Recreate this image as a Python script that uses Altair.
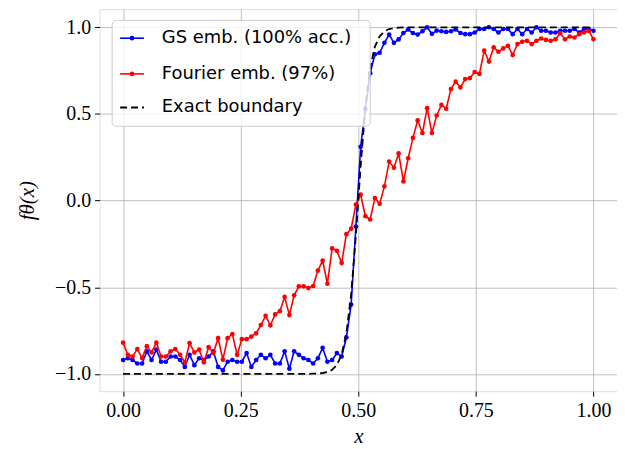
import altair as alt
import numpy as np
import pandas as pd

# ---------------- data ----------------
x_vals = np.linspace(0, 1, 100)

gs_vals = [
    -0.92, -0.91, -0.92, -0.94, -0.94, -0.87, -0.92, -0.86, -0.93, -0.93,
    -0.90, -0.90, -0.92, -0.96, -0.89, -0.95, -0.91, -0.92, -0.90, -0.87,
    -0.96, -0.98, -0.93, -0.92, -0.93, -0.93, -0.88, -0.96, -0.92, -0.89,
    -0.91, -0.89, -0.94, -0.94, -0.87, -0.97, -0.87, -0.89, -0.91, -0.92,
    -0.94, -0.91, -0.85, -0.93, -0.92, -0.88, -0.90, -0.79, -0.60, -0.15,
    0.31, 0.53, 0.735, 0.844, 0.853, 0.91, 0.958, 0.91, 0.93, 0.967,
    0.987, 0.967, 0.958, 0.977, 1.0, 0.962, 0.981, 0.977, 0.973, 0.977,
    0.987, 0.967, 0.96, 0.96, 0.97, 0.99, 0.99, 1.0, 0.99, 0.97,
    0.99, 0.99, 0.96, 0.99, 0.96, 0.99, 0.97, 1.0, 0.98, 0.98,
    0.97, 0.97, 0.98, 0.98, 0.98, 0.99, 0.97, 0.99, 0.99, 0.98,
]

fourier_vals = [
    -0.82, -0.89, -0.90, -0.857, -0.909, -0.84, -0.876, -0.82, -0.90, -0.90,
    -0.87, -0.857, -0.89, -0.933, -0.823, -0.876, -0.86, -0.933, -0.846, -0.88,
    -0.794, -0.918, -0.794, -0.77, -0.89, -0.80, -0.80, -0.785, -0.766, -0.718,
    -0.665, -0.72, -0.657, -0.638, -0.556, -0.661, -0.547, -0.495, -0.495, -0.505,
    -0.493, -0.404, -0.347, -0.48, -0.276, -0.29, -0.36, -0.194, -0.162, -0.023,
    0.034, -0.09, -0.109, 0.015, -0.019, 0.082, 0.225, 0.19, 0.272, 0.11,
    0.244, 0.362, 0.463, 0.39, 0.533, 0.39, 0.491, 0.552, 0.53, 0.644,
    0.686, 0.653, 0.701, 0.707, 0.742, 0.731, 0.865, 0.802, 0.884, 0.859,
    0.878, 0.893, 0.84, 0.903, 0.916, 0.922, 0.903, 0.922, 0.935, 0.927,
    0.922, 0.931, 0.966, 0.931, 0.947, 0.941, 0.96, 0.97, 0.979, 0.931,
]

exact_vals = [
    -1.0, -1.0, -1.0, -1.0, -1.0, -1.0, -1.0, -1.0, -1.0, -1.0,
    -1.0, -1.0, -1.0, -1.0, -1.0, -1.0, -1.0, -1.0, -1.0, -1.0,
    -1.0, -1.0, -1.0, -1.0, -1.0, -1.0, -1.0, -1.0, -1.0, -1.0,
    -1.0, -1.0, -1.0, -1.0, -1.0, -1.0, -1.0, -1.0, -1.0, -1.0,
    -0.999, -0.998, -0.995, -0.990, -0.977, -0.948, -0.889, -0.766, -0.541, -0.199,
    0.199, 0.541, 0.766, 0.889, 0.948, 0.977, 0.990, 0.995, 0.998, 0.999,
    1.0, 1.0, 1.0, 1.0, 1.0, 1.0, 1.0, 1.0, 1.0, 1.0,
    1.0, 1.0, 1.0, 1.0, 1.0, 1.0, 1.0, 1.0, 1.0, 1.0,
    1.0, 1.0, 1.0, 1.0, 1.0, 1.0, 1.0, 1.0, 1.0, 1.0,
    1.0, 1.0, 1.0, 1.0, 1.0, 1.0, 1.0, 1.0, 1.0, 1.0,
]

series_labels = ["GS emb. (100% acc.)", "Fourier emb. (97%)", "Exact boundary"]
series_colors = ["#0000ff", "#ff0000", "#000000"]

x_ticks = [0.0, 0.25, 0.5, 0.75, 1.0]
y_ticks = [-1.0, -0.5, 0.0, 0.5, 1.0]

# ---------------- tables ----------------
df_gs = pd.DataFrame({"x": x_vals, "y": gs_vals})
df_fo = pd.DataFrame({"x": x_vals, "y": fourier_vals})
df_ex = pd.DataFrame({"x": x_vals, "y": exact_vals})

SERIF = "Liberation Serif"
SANS = "DejaVu Sans"

xs = alt.Scale(domain=[-0.05, 1.05], nice=False, zero=False)
ys = alt.Scale(domain=[-1.1, 1.105], nice=False, zero=False)

xaxis = alt.Axis(values=x_ticks, format=".2f", title="x", titleFontStyle="italic",
                 titleFont=SERIF, titleFontSize=21, titleFontWeight="normal",
                 titleColor="black", titlePadding=6,
                 labelFont=SERIF, labelFontSize=20, labelColor="black", labelPadding=4,
                 tickSize=5, tickColor="black", tickWidth=1, domain=False,
                 grid=True, gridColor="#b0b0b0", gridWidth=0.8, labelFlush=False)
yaxis = alt.Axis(values=y_ticks, format=".1f", title="fθ(x)", titleFontStyle="italic",
                 titleFont=SERIF, titleFontSize=21, titleFontWeight="normal",
                 titleColor="black", titlePadding=17,
                 labelFont=SERIF, labelFontSize=20, labelColor="black", labelPadding=4,
                 tickSize=5, tickColor="black", tickWidth=1, domain=False,
                 grid=True, gridColor="#b0b0b0", gridWidth=0.8, labelFlush=False)

X = alt.X("x:Q", scale=xs, axis=xaxis)
Y = alt.Y("y:Q", scale=ys, axis=yaxis)

gs_line = alt.Chart(df_gs).mark_line(color=series_colors[0], strokeWidth=1.6).encode(x=X, y=Y)
gs_pts = alt.Chart(df_gs).mark_circle(color=series_colors[0], size=22, opacity=1).encode(x=X, y=Y)
fo_line = alt.Chart(df_fo).mark_line(color=series_colors[1], strokeWidth=1.6).encode(x=X, y=Y)
fo_pts = alt.Chart(df_fo).mark_circle(color=series_colors[1], size=22, opacity=1).encode(x=X, y=Y)
ex_line = alt.Chart(df_ex).mark_line(color=series_colors[2], strokeWidth=1.8,
                                     strokeDash=[7, 4]).encode(x=X, y=Y)

# ---------------- legend (drawn in data coordinates) ----------------
box = pd.DataFrame({"x": [-0.0232], "x2": [0.5253], "y": [1.04], "y2": [0.4286]})
leg_box = alt.Chart(box).mark_rect(fill="white", fillOpacity=0.8, stroke="#cccccc",
                                   strokeWidth=1, cornerRadius=4).encode(
    x=X, x2="x2:Q", y=Y, y2="y2:Q")

leg_rows = [0.937, 0.731, 0.537]
seg_x0, seg_x1, dot_x, txt_x = -0.0063, 0.0443, 0.019, 0.0823

leg_layers = []
for i in range(3):
    seg = pd.DataFrame({"x": [seg_x0, seg_x1], "y": [leg_rows[i]] * 2})
    if i < 2:
        leg_layers.append(alt.Chart(seg).mark_line(color=series_colors[i], strokeWidth=1.6)
                          .encode(x=X, y=Y))
        dot = pd.DataFrame({"x": [dot_x], "y": [leg_rows[i]]})
        leg_layers.append(alt.Chart(dot).mark_circle(color=series_colors[i], size=22, opacity=1)
                          .encode(x=X, y=Y))
    else:
        leg_layers.append(alt.Chart(seg).mark_line(color="black", strokeWidth=1.8,
                                                   strokeDash=[7, 4]).encode(x=X, y=Y))

txt = pd.DataFrame({"x": [txt_x] * 3, "y": leg_rows, "label": series_labels})
leg_text = alt.Chart(txt).mark_text(align="left", baseline="middle", font=SANS,
                                    fontSize=18, color="black").encode(
    x=X, y=Y, text="label:N")

chart = alt.layer(gs_line, gs_pts, fo_line, fo_pts, ex_line, leg_box, *leg_layers, leg_text).properties(
    width=520, height=384,
    padding={"left": 92, "top": 0, "right": 0, "bottom": 56},
    autosize=alt.AutoSizeParams(type="none"),
).configure_view(stroke="black", strokeWidth=1).configure(background="white")

chart.save("out.html", embed_options={"renderer": "svg", "actions": False})
